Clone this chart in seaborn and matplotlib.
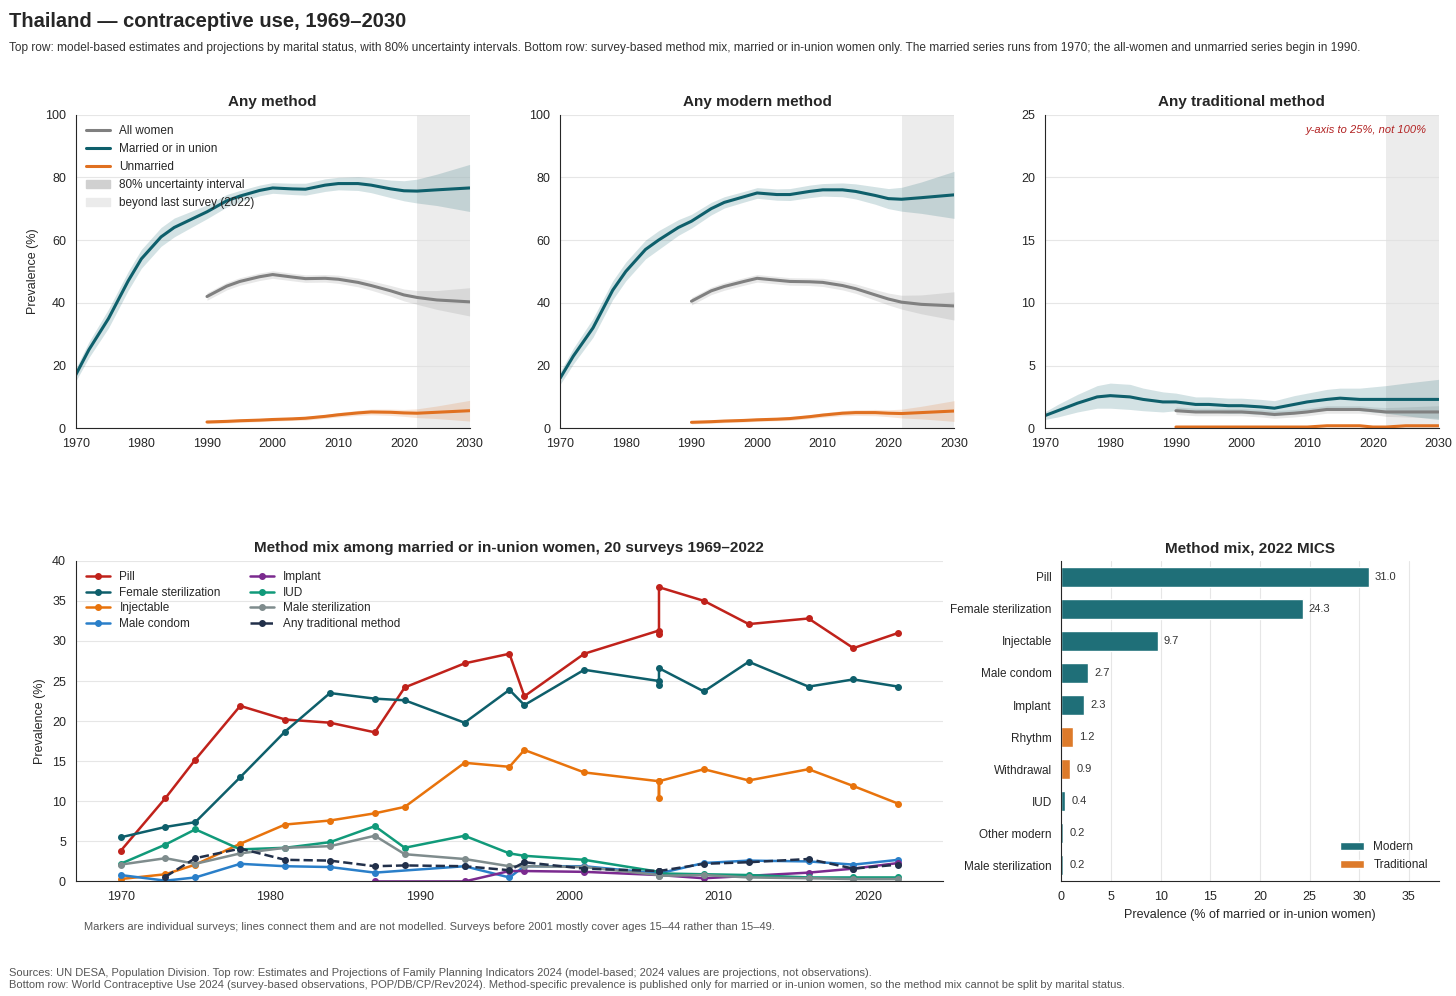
import numpy as np
import pandas as pd
import matplotlib.pyplot as plt
import seaborn as sns
from matplotlib.patches import Patch

sns.set_style("white")
plt.rcParams['font.family'] = ['Liberation Sans', 'DejaVu Sans']
plt.rcParams['font.size'] = 9

TEAL = '#0e5f6b'
GREY = '#808080'
ORANGE = '#e07020'

# ---- top row: model-based estimates ----
yrs_m = [1970, 1972, 1975, 1978, 1980, 1983, 1985, 1988, 1990, 1993, 1995, 1998, 2000, 2003, 2005, 2008, 2010, 2013, 2015, 2018, 2020, 2022, 2025, 2030]
any_married = [17, 25, 35, 47, 54, 61, 64, 67, 69, 72.5, 74, 75.8, 76.6, 76.3, 76.2, 77.5, 78, 78, 77.5, 76.3, 75.7, 75.6, 76, 76.6]
any_married_hw = [2, 2.5, 3, 3, 3, 3, 3, 2.5, 2.2, 2, 1.8, 1.7, 1.7, 1.8, 1.9, 2, 2, 2.2, 2.4, 2.8, 3.2, 3.8, 5, 7.5]
mod_married = [16, 23, 32, 44, 50, 57, 60, 64, 66, 70, 72, 73.8, 75, 74.5, 74.5, 75.5, 76, 76, 75.5, 74.2, 73.2, 73, 73.5, 74.4]
mod_married_hw = [2, 2.5, 3, 3, 3, 3, 3, 2.5, 2.2, 2, 1.8, 1.7, 1.7, 1.8, 1.9, 2, 2, 2.2, 2.4, 2.8, 3.2, 3.8, 5, 7.5]
trad_married = [1.0, 1.4, 2.0, 2.5, 2.6, 2.5, 2.3, 2.1, 2.1, 1.9, 1.9, 1.8, 1.8, 1.7, 1.6, 1.9, 2.1, 2.3, 2.4, 2.3, 2.3, 2.3, 2.3, 2.3]
trad_married_hw = [0.3, 0.5, 0.7, 0.9, 1.0, 1.0, 0.9, 0.8, 0.7, 0.6, 0.6, 0.6, 0.6, 0.6, 0.6, 0.7, 0.7, 0.8, 0.8, 0.9, 1.0, 1.1, 1.3, 1.6]

yrs_w = [1990, 1993, 1995, 1998, 2000, 2003, 2005, 2008, 2010, 2013, 2015, 2018, 2020, 2022, 2025, 2030]
any_all = [42, 45.3, 46.8, 48.3, 49, 48.2, 47.7, 47.8, 47.5, 46.5, 45.5, 43.8, 42.5, 41.7, 40.9, 40.3]
any_all_hw = [1.2, 1.2, 1.2, 1.2, 1.2, 1.2, 1.2, 1.2, 1.3, 1.4, 1.5, 1.7, 1.9, 2.2, 3, 4.5]
mod_all = [40.5, 43.8, 45.2, 46.8, 47.8, 47.2, 46.8, 46.7, 46.5, 45.5, 44.5, 42.5, 41.2, 40.2, 39.5, 39]
mod_all_hw = [1.2, 1.2, 1.2, 1.2, 1.2, 1.2, 1.2, 1.2, 1.3, 1.4, 1.5, 1.7, 1.9, 2.2, 3, 4.5]
trad_all = [1.4, 1.3, 1.3, 1.3, 1.3, 1.2, 1.1, 1.2, 1.3, 1.5, 1.5, 1.5, 1.4, 1.3, 1.3, 1.3]
trad_all_hw = [0.3, 0.3, 0.3, 0.3, 0.3, 0.3, 0.3, 0.3, 0.3, 0.3, 0.3, 0.3, 0.3, 0.35, 0.4, 0.5]
any_unm = [2.0, 2.2, 2.4, 2.6, 2.8, 3.0, 3.2, 3.8, 4.3, 4.9, 5.2, 5.1, 4.9, 4.8, 5.1, 5.6]
any_unm_hw = [0.5, 0.5, 0.5, 0.5, 0.5, 0.5, 0.6, 0.6, 0.7, 0.8, 0.9, 1.0, 1.1, 1.4, 2, 3.3]
mod_unm = [1.9, 2.1, 2.3, 2.5, 2.7, 2.9, 3.1, 3.7, 4.2, 4.8, 5.0, 5.0, 4.8, 4.7, 5.0, 5.5]
trad_unm = [0.1, 0.1, 0.1, 0.1, 0.1, 0.1, 0.1, 0.1, 0.1, 0.2, 0.2, 0.2, 0.1, 0.1, 0.2, 0.2]
trad_unm_hw = [0.05] * 16

# ---- bottom left: survey method mix ----
survey_years = [1970, 1973, 1975, 1978, 1981, 1984, 1987, 1989, 1993, 1996, 1997, 2001, 2006, 2006, 2006, 2009, 2012, 2016, 2019, 2022]
pill = [3.8, 10.4, 15.2, 21.9, 20.2, 19.8, 18.6, 24.2, 27.2, 28.4, 23.1, 28.4, 31.3, 30.9, 36.7, 35.0, 32.1, 32.8, 29.1, 31.0]
fem_ster = [5.5, 6.8, 7.4, 13.0, 18.7, 23.5, 22.8, 22.6, 19.8, 23.9, 22.0, 26.4, 25.0, 24.5, 26.6, 23.7, 27.4, 24.3, 25.2, 24.3]
injectable = [0.3, 0.9, 2.1, 4.7, 7.1, 7.6, 8.5, 9.3, 14.8, 14.3, 16.4, 13.6, 12.5, 10.4, 12.5, 14.0, 12.6, 14.0, 11.9, 9.7]
condom = [0.8, 0.1, 0.5, 2.2, 1.9, 1.8, 1.1, np.nan, 1.9, 0.5, 1.9, 1.9, 1.0, 1.0, 1.0, 2.3, 2.6, 2.5, 2.1, 2.7]
implant = [np.nan, np.nan, np.nan, np.nan, np.nan, np.nan, 0.0, np.nan, 0.0, 1.3, 1.3, 1.2, 0.8, 0.8, 0.8, 0.4, 0.7, 1.1, 1.6, 2.3]
iud = [2.2, 4.6, 6.5, 4.0, 4.2, 4.9, 6.9, 4.2, 5.7, 3.5, 3.2, 2.7, 1.2, 1.0, 1.0, 0.9, 0.8, 0.5, 0.5, 0.5]
male_ster = [2.1, 2.9, 2.2, 3.5, 4.2, 4.4, 5.7, 3.4, 2.8, 1.9, 1.9, 1.8, 0.8, 0.7, 0.7, 0.8, 0.5, 0.4, 0.3, 0.3]
traditional = [np.nan, 0.6, 2.9, 4.1, 2.7, 2.6, 1.9, 2.0, 1.9, 1.4, 2.4, 1.6, 1.3, 1.3, 1.3, 2.2, 2.4, 2.8, 1.6, 2.1]

# ---- bottom right: 2022 MICS ----
mix_methods = ['Pill', 'Female sterilization', 'Injectable', 'Male condom', 'Implant', 'Rhythm', 'Withdrawal', 'IUD', 'Other modern', 'Male sterilization']
mix_values = [31.0, 24.3, 9.7, 2.7, 2.3, 1.2, 0.9, 0.4, 0.2, 0.2]
mix_type = ['Modern', 'Modern', 'Modern', 'Modern', 'Modern', 'Traditional', 'Traditional', 'Modern', 'Modern', 'Modern']

fig = plt.figure(figsize=(14.56, 9.96), dpi=100)
gs_top = fig.add_gridspec(1, 3, left=0.052, right=0.988, top=0.885, bottom=0.57, wspace=0.23)
gs_bot = fig.add_gridspec(1, 2, left=0.052, right=0.988, top=0.437, bottom=0.115, wspace=0.19, width_ratios=[2.3, 1])

fig.text(0.006, 0.988, 'Thailand \u2014 contraceptive use, 1969\u20132030', fontsize=14.5, fontweight='bold', va='top')
fig.text(0.006, 0.958, 'Top row: model-based estimates and projections by marital status, with 80% uncertainty intervals. '
         'Bottom row: survey-based method mix, married or in-union women only. The married series runs from 1970; '
         'the all-women and unmarried series begin in 1990.', fontsize=8.6, color='#333333', va='top')

panels = [
    ('Any method', 100, any_married, any_married_hw, any_all, any_all_hw, any_unm, any_unm_hw),
    ('Any modern method', 100, mod_married, mod_married_hw, mod_all, mod_all_hw, mod_unm, any_unm_hw),
    ('Any traditional method', 25, trad_married, trad_married_hw, trad_all, trad_all_hw, trad_unm, trad_unm_hw),
]
for i, (title, ymax, mm, mhw, aa, ahw, uu, uhw) in enumerate(panels):
    ax = fig.add_subplot(gs_top[0, i])
    ax.axvspan(2022, 2030, color='#e0e0e0', alpha=0.6, lw=0)
    for yrs, vals, hw, col, lab in [(yrs_w, aa, ahw, GREY, 'All women'),
                                    (yrs_m, mm, mhw, TEAL, 'Married or in union'),
                                    (yrs_w, uu, uhw, ORANGE, 'Unmarried')]:
        v = np.array(vals); h = np.array(hw)
        ax.fill_between(yrs, v - h, v + h, color=col, alpha=0.18, lw=0)
        sns.lineplot(x=yrs, y=vals, ax=ax, color=col, lw=2.2, label=lab if i == 0 else None)
    ax.set_xlim(1970, 2030)
    ax.set_ylim(0, ymax)
    ax.set_xticks(range(1970, 2031, 10))
    ax.set_yticks(range(0, ymax + 1, 20 if ymax == 100 else 5))
    ax.grid(axis='y', color='#e6e6e6', lw=0.8)
    sns.despine(ax=ax)
    ax.set_title(title, fontsize=11, fontweight='bold')
    if i == 0:
        ax.set_ylabel('Prevalence (%)')
        h, l = ax.get_legend_handles_labels()
        order = ['All women', 'Married or in union', 'Unmarried']
        hs = [h[l.index(o)] for o in order] + [Patch(color='#d0d0d0'), Patch(color='#ebebeb')]
        ax.legend(hs, order + ['80% uncertainty interval', 'beyond last survey (2022)'], loc='upper left', frameon=False, fontsize=8.5)
    if i == 2:
        ax.text(0.97, 0.94, 'y-axis to 25%, not 100%', transform=ax.transAxes, ha='right', color='#b22222', fontsize=8, style='italic')

# bottom-left
ax = fig.add_subplot(gs_bot[0, 0])
series = [('Pill', pill, '#c0221b', '-'), ('Female sterilization', fem_ster, TEAL, '-'),
          ('Injectable', injectable, '#e8730c', '-'), ('Male condom', condom, '#2a7fc9', '-'),
          ('Implant', implant, '#7b2a8f', '-'), ('IUD', iud, '#119a7a', '-'),
          ('Male sterilization', male_ster, '#7f8c8d', '-'), ('Any traditional method', traditional, '#22304a', '--')]
for name, vals, col, ls in series:
    df = pd.DataFrame({'year': survey_years, 'v': vals}).dropna()
    ax.plot(df['year'], df['v'], color=col, ls=ls, lw=1.8, marker='o', ms=4, label=name)
ax.set_xlim(1967, 2025)
ax.set_ylim(0, 40)
ax.set_yticks(range(0, 41, 5))
ax.set_xticks(range(1970, 2021, 10))
ax.grid(axis='y', color='#e6e6e6', lw=0.8)
sns.despine(ax=ax)
ax.set_ylabel('Prevalence (%)')
ax.set_title('Method mix among married or in-union women, 20 surveys 1969\u20132022', fontsize=11, fontweight='bold')
ax.legend(loc='upper left', ncol=2, frameon=False, fontsize=8.5, handlelength=2, columnspacing=2.5, labelspacing=0.3)
ax.text(0.01, -0.15, 'Markers are individual surveys; lines connect them and are not modelled. Surveys before 2001 mostly cover ages 15\u201344 rather than 15\u201349.',
        transform=ax.transAxes, fontsize=8, color='#555555')

# bottom-right
ax = fig.add_subplot(gs_bot[0, 1])
bdf = pd.DataFrame({'method': mix_methods, 'value': mix_values, 'type': mix_type})
sns.barplot(data=bdf, y='method', x='value', hue='type', palette={'Modern': '#1f6f78', 'Traditional': '#dd7a2a'},
            dodge=False, ax=ax, width=0.62, saturation=1)
for j, v in enumerate(mix_values):
    ax.text(v + 0.6, j, f'{v:.1f}', va='center', fontsize=8, color='#333333')
ax.set_xlim(0, 38)
ax.set_xticks(range(0, 36, 5))
ax.tick_params(axis='y', labelsize=8.5)
ax.grid(axis='x', color='#e6e6e6', lw=0.8)
ax.set_axisbelow(True)
sns.despine(ax=ax)
ax.set_ylabel('')
ax.set_xlabel('Prevalence (% of married or in-union women)')
ax.set_title('Method mix, 2022 MICS', fontsize=11, fontweight='bold')
ax.legend(title=None, loc='lower right', frameon=False, fontsize=8.5)

fig.text(0.006, 0.008, 'Sources: UN DESA, Population Division. Top row: Estimates and Projections of Family Planning Indicators 2024 (model-based; 2024 values are projections, not observations).\n'
         'Bottom row: World Contraceptive Use 2024 (survey-based observations, POP/DB/CP/Rev2024). Method-specific prevalence is published only for married or in-union women, so the method mix cannot be split by marital status.',
         fontsize=8, color='#555555', linespacing=1.3)

fig.savefig('out.png', dpi=100)
